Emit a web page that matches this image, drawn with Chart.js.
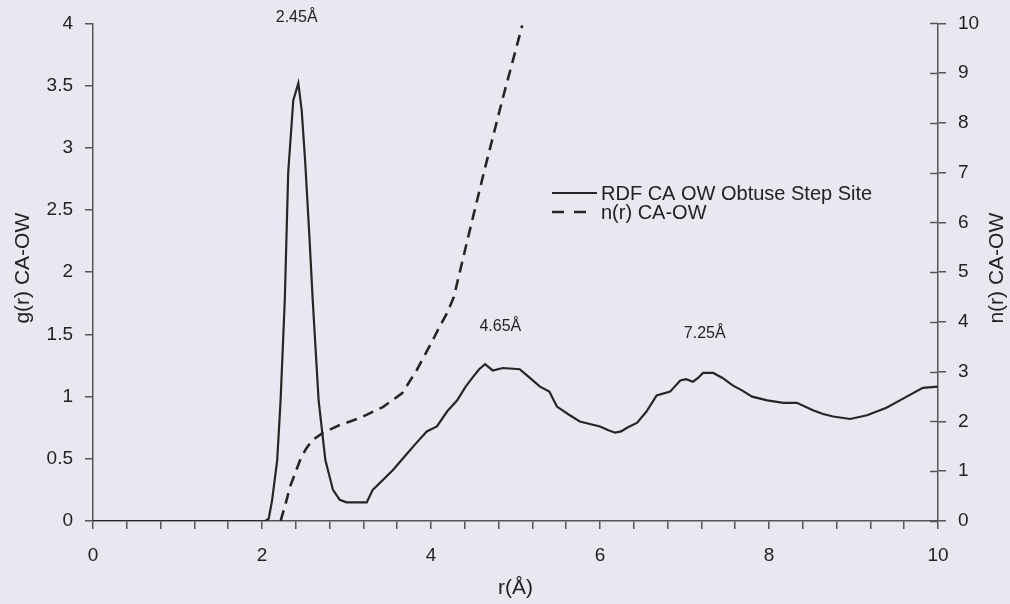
<!DOCTYPE html>
<html lang="en">

<head>
  <meta charset="UTF-8">
  <title>RDF CA-OW</title>
  <script src="https://cdn.jsdelivr.net/npm/chart.js"></script>
  <style>
    body { margin: 0; background: #e8e8f0; }
  </style>
</head>

<body>

  <canvas id="rdfChart" width="1010" height="604"></canvas>

  <script>
    // g(r) CA-OW
    const rdfR = [0, 2.04, 2.08, 2.12, 2.18, 2.22, 2.27, 2.31, 2.37, 2.43, 2.47, 2.51, 2.56, 2.6, 2.67, 2.75, 2.84, 2.92, 3.0, 3.24,
      3.31, 3.43, 3.55, 3.69, 3.83, 3.95, 4.07, 4.19, 4.31, 4.41, 4.5, 4.57, 4.64, 4.73, 4.85, 5.05, 5.17, 5.29, 5.4, 5.49,
      5.62, 5.76, 5.88, 6.0, 6.1, 6.18, 6.25, 6.32, 6.44, 6.55, 6.67, 6.83, 6.95, 7.02, 7.1, 7.16, 7.22, 7.34, 7.45, 7.57,
      7.68, 7.8, 7.98, 8.17, 8.33, 8.52, 8.64, 8.76, 8.96, 9.16, 9.39, 9.63, 9.82, 10];
    const rdfG = [0, 0, 0.02, 0.17, 0.49, 0.97, 1.78, 2.8, 3.38, 3.52, 3.3, 2.9, 2.3, 1.78, 0.97, 0.49, 0.25, 0.17, 0.15, 0.15,
      0.25, 0.33, 0.41, 0.52, 0.63, 0.72, 0.76, 0.88, 0.97, 1.08, 1.16, 1.22, 1.26, 1.21, 1.23, 1.22, 1.15, 1.08, 1.04, 0.92,
      0.86, 0.80, 0.78, 0.76, 0.73, 0.71, 0.72, 0.75, 0.79, 0.88, 1.01, 1.04, 1.13, 1.14, 1.12, 1.15, 1.19, 1.19, 1.15, 1.09,
      1.05, 1.00, 0.97, 0.95, 0.95, 0.89, 0.86, 0.84, 0.82, 0.85, 0.91, 1.00, 1.07, 1.08];

    // n(r) CA-OW (right axis)
    const nR = [2.22, 2.28, 2.33, 2.39, 2.45, 2.52, 2.6, 2.72, 2.92, 3.16, 3.43, 3.66, 3.83, 4.02, 4.1, 4.19, 4.27, 4.46, 4.64, 4.85, 5.08];
    const nN = [0, 0.35, 0.68, 0.95, 1.22, 1.45, 1.63, 1.77, 1.93, 2.07, 2.29, 2.57, 3.03, 3.63, 3.9, 4.18, 4.5, 5.85, 7.1, 8.5, 9.96];

    // peak labels
    const peakText = ['2.45Å', '4.65Å', '7.25Å'];
    const peakR = [2.41, 4.82, 7.24];
    const peakG = [4.05, 1.56, 1.51];

    const legendText = ['RDF CA OW Obtuse Step Site', 'n(r) CA-OW'];

    const FONT = "'Liberation Sans', Arial, sans-serif";
    const INK = '#262626';
    const AXIS = '#555555';

    const toXY = (xs, ys) => xs.map((x, i) => ({ x: x, y: ys[i] }));

    // titles, peak labels, legend and the inner half of the right-axis ticks
    const extras = {
      id: 'extras',
      afterDraw(chart) {
        const ctx = chart.ctx;
        const a = chart.chartArea;
        const s = chart.scales;
        const midY = (a.top + a.bottom) / 2 - 4;
        ctx.save();
        ctx.fillStyle = '#222';
        ctx.textAlign = 'center';
        ctx.textBaseline = 'middle';

        ctx.font = '21px ' + FONT;
        [[23, 'g(r) CA-OW'], [997, 'n(r) CA-OW']].forEach(([x, t]) => {
          ctx.save();
          ctx.translate(x, midY);
          ctx.rotate(-Math.PI / 2);
          ctx.fillText(t, 0, 0);
          ctx.restore();
        });
        ctx.fillText('r(Å)', (a.left + a.right) / 2, 588);

        ctx.font = '16px ' + FONT;
        peakText.forEach((t, i) => {
          ctx.fillText(t, s.x.getPixelForValue(peakR[i]), s.y.getPixelForValue(peakG[i]));
        });

        // right axis ticks cross the line
        ctx.strokeStyle = AXIS;
        ctx.lineWidth = 1.5;
        s.y2.ticks.forEach(t => {
          const py = Math.round(s.y2.getPixelForValue(t.value)) + 0.5;
          ctx.beginPath();
          ctx.moveTo(a.right - 8, py);
          ctx.lineTo(a.right, py);
          ctx.stroke();
        });

        // legend
        ctx.font = '20px ' + FONT;
        ctx.textAlign = 'left';
        chart.data.datasets.forEach((d, i) => {
          const y = 193 + i * 19;
          ctx.strokeStyle = d.borderColor;
          ctx.lineWidth = d.borderWidth;
          ctx.setLineDash(d.borderDash ? [12, 10] : []);
          ctx.beginPath();
          ctx.moveTo(552, y);
          ctx.lineTo(d.borderDash ? 586 : 597, y);
          ctx.stroke();
          ctx.setLineDash([]);
          ctx.fillText(legendText[i], 601, y + 1);
        });
        ctx.restore();
      }
    };

    const ctx = document.getElementById('rdfChart').getContext('2d');

    const chart = new Chart(ctx, {
      type: 'line',
      data: {
        datasets: [
          {
            label: legendText[0],
            data: toXY(rdfR, rdfG),
            yAxisID: 'y',
            borderColor: INK,
            borderWidth: 2.2,
            pointRadius: 0,
            tension: 0,
          },
          {
            label: legendText[1],
            data: toXY(nR, nN),
            yAxisID: 'y2',
            borderColor: INK,
            borderWidth: 2.6,
            borderDash: [11, 7],
            pointRadius: 0,
            tension: 0,
          },
        ]
      },
      options: {
        responsive: false,
        animation: false,
        layout: { padding: { top: 23, left: 0, right: 0, bottom: 0 } },
        plugins: {
          legend: { display: false },
          tooltip: { enabled: false },
        },
        scales: {
          x: {
            type: 'linear',
            min: 0,
            max: 10,
            afterFit: sc => { sc.height = 83; },
            afterBuildTicks: sc => {
              sc.ticks = [];
              for (let k = 0; k <= 25; k++) sc.ticks.push({ value: k * 0.4 });
            },
            ticks: {
              autoSkip: false,
              maxRotation: 0,
              padding: 15,
              color: '#222',
              font: { family: FONT, size: 19 },
              callback: v => (Math.abs(v / 2 - Math.round(v / 2)) < 1e-6 ? String(Math.round(v)) : ''),
            },
            grid: { drawOnChartArea: false, tickLength: 8, color: AXIS, lineWidth: 1.5 },
            border: { color: AXIS, width: 1.5 },
          },
          y: {
            position: 'left',
            min: 0,
            max: 4,
            afterFit: sc => { sc.width = 93; },
            ticks: {
              stepSize: 0.5,
              padding: 12,
              color: '#222',
              font: { family: FONT, size: 19 },
              callback: v => String(v),
            },
            grid: { drawOnChartArea: false, tickLength: 8, color: AXIS, lineWidth: 1.5 },
            border: { color: AXIS, width: 1.5 },
          },
          y2: {
            position: 'right',
            min: 0,
            max: 10,
            afterFit: sc => { sc.width = 72; },
            ticks: {
              stepSize: 1,
              padding: 12,
              color: '#222',
              font: { family: FONT, size: 19 },
              callback: v => String(v),
            },
            grid: { drawOnChartArea: false, tickLength: 8, color: AXIS, lineWidth: 1.5 },
            border: { color: AXIS, width: 1.5 },
          }
        }
      },
      plugins: [extras]
    });
  </script>

</body>

</html>
